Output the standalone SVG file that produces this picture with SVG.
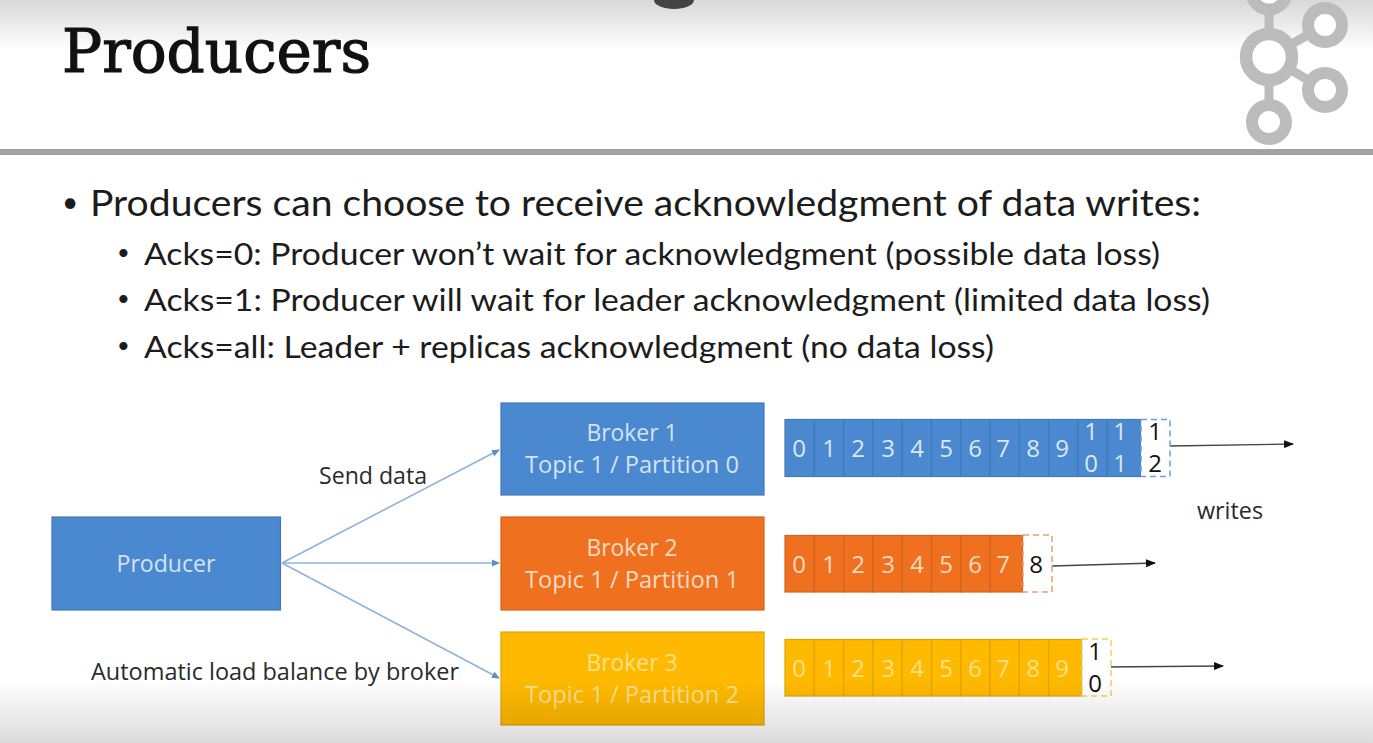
<svg xmlns="http://www.w3.org/2000/svg" width="1373" height="743" viewBox="0 0 1373 743">
<style>
.b{font-family:"Lato","Open Sans",sans-serif;fill:#1c1c1c}
.d{font-family:"Open Sans","Noto Sans",sans-serif;font-size:23px;text-anchor:middle}
.k{fill:#2a2a2a}
.c{font-family:"Open Sans","Noto Sans",sans-serif;font-size:24px;text-anchor:middle}
.cell{stroke-width:1.2}
.blue{fill:#4a89d0;stroke:#4078b8}
.orange{fill:#ef711f;stroke:#d2621c}
.yellow{fill:#ffb900;stroke:#e0a400}
.dash{fill:#fff;stroke-width:1.5;stroke-dasharray:6 4}
.conn{fill:none;stroke:#8fb3d9;stroke-width:1.6}
.wr{fill:none;stroke:#444;stroke-width:1.3}
.logo{fill:#fff;stroke:#bcbcbc}
</style>
<defs>
<linearGradient id="top" x1="0" y1="0" x2="0" y2="1"><stop offset="0" stop-color="#d8d8d8"/><stop offset="1" stop-color="#fff"/></linearGradient>
<linearGradient id="bot" x1="0" y1="0" x2="0" y2="1"><stop offset="0" stop-color="#000" stop-opacity="0"/><stop offset="1" stop-color="#000" stop-opacity="0.14"/></linearGradient>
<marker id="ab" markerWidth="8" markerHeight="8" refX="7" refY="4" orient="auto" markerUnits="userSpaceOnUse"><path d="M0 0.500L8 4L0 7.500z" fill="#5e90c8"/></marker>
<marker id="ak" markerWidth="10" markerHeight="8" refX="9" refY="4" orient="auto" markerUnits="userSpaceOnUse"><path d="M0 0L10 4L0 8z" fill="#111"/></marker>
</defs>
<rect width="1373" height="743" fill="#fff"/>
<rect width="1373" height="50" fill="url(#top)"/>
<path d="M654 0H694A20 9 0 0 1 654 0z" fill="#444"/>
<rect x="0" y="149" width="1373" height="6" fill="#a2a2a2"/>
<g id="logo">
<path fill="none" stroke="#bcbcbc" stroke-width="9" d="M1269 0V122M1269 57L1325 25M1269 57L1325 90"/>
<circle class="logo" cx="1269" cy="-8" r="17.500" stroke-width="12"/>
<circle class="logo" cx="1269" cy="57" r="23" stroke-width="12.500"/>
<circle class="logo" cx="1325" cy="25" r="17" stroke-width="12"/>
<circle class="logo" cx="1325" cy="90" r="17" stroke-width="12"/>
<circle class="logo" cx="1269" cy="122" r="17" stroke-width="12"/>
</g>
<text x="62" y="72" font-family="DejaVu Serif,serif" font-size="60" fill="#111" stroke="#111" stroke-width="1.200" textLength="309" lengthAdjust="spacingAndGlyphs">Producers</text>
<g id="bullets">
<text class="b" x="62" y="212" font-size="28">•</text>
<text class="b" x="90" y="216" font-size="37" textLength="1111" lengthAdjust="spacingAndGlyphs">Producers can choose to receive acknowledgment of data writes:</text>
<text class="b" x="117" y="260" font-size="22">•</text>
<text class="b" x="144" y="265" font-size="31" textLength="1016" lengthAdjust="spacingAndGlyphs">Acks=0: Producer won’t wait for acknowledgment (possible data loss)</text>
<text class="b" x="117" y="306" font-size="22">•</text>
<text class="b" x="144" y="311" font-size="31" textLength="1066" lengthAdjust="spacingAndGlyphs">Acks=1: Producer will wait for leader acknowledgment (limited data loss)</text>
<text class="b" x="117" y="353" font-size="22">•</text>
<text class="b" x="144" y="358" font-size="31" textLength="850" lengthAdjust="spacingAndGlyphs">Acks=all: Leader + replicas acknowledgment (no data loss)</text>
</g>
<g id="connectors">
<path class="conn" marker-end="url(#ab)" d="M282 563L499 450"/>
<path class="conn" marker-end="url(#ab)" d="M282 563H499"/>
<path class="conn" marker-end="url(#ab)" d="M282 563L499 678"/>
<path class="wr" marker-end="url(#ak)" d="M1170 446L1293 444"/>
<path class="wr" marker-end="url(#ak)" d="M1052 566L1155 563"/>
<path class="wr" marker-end="url(#ak)" d="M1105 667L1223 666"/>
</g>
<text class="d k" x="373" y="484" textLength="108" lengthAdjust="spacingAndGlyphs">Send data</text>
<text class="d k" x="275" y="680" textLength="368" lengthAdjust="spacingAndGlyphs">Automatic load balance by broker</text>
<text class="d k" x="1230" y="519" textLength="66" lengthAdjust="spacingAndGlyphs">writes</text>
<g id="producer"><rect class="cell blue" x="52" y="517" width="228.500" height="93"/><text class="d" fill="#d5e2f2" x="166" y="572" textLength="99" lengthAdjust="spacingAndGlyphs">Producer</text></g>
<g id="broker1"><rect class="cell blue" x="501" y="403" width="263" height="92"/><text class="d" fill="#d5e2f2" x="632" y="441" textLength="91" lengthAdjust="spacingAndGlyphs">Broker 1</text><text class="d" fill="#d5e2f2" x="632" y="473" textLength="214" lengthAdjust="spacingAndGlyphs">Topic 1 / Partition 0</text></g>
<g id="broker2"><rect class="cell orange" x="501" y="517" width="263" height="93"/><text class="d" fill="#f8d9c2" x="632" y="556" textLength="91" lengthAdjust="spacingAndGlyphs">Broker 2</text><text class="d" fill="#f8d9c2" x="632" y="588" textLength="214" lengthAdjust="spacingAndGlyphs">Topic 1 / Partition 1</text></g>
<g id="broker3"><rect class="cell yellow" x="501" y="632" width="263" height="93"/><text class="d" fill="#fbe08a" x="632" y="671" textLength="91" lengthAdjust="spacingAndGlyphs">Broker 3</text><text class="d" fill="#fbe08a" x="632" y="703" textLength="214" lengthAdjust="spacingAndGlyphs">Topic 1 / Partition 2</text></g>
<g id="log1">
<rect class="cell blue" x="785" y="419.500" width="29.300" height="57"/><rect class="cell blue" x="814.300" y="419.500" width="29.300" height="57"/><rect class="cell blue" x="843.600" y="419.500" width="29.300" height="57"/><rect class="cell blue" x="872.900" y="419.500" width="29.300" height="57"/><rect class="cell blue" x="902.200" y="419.500" width="29.300" height="57"/><rect class="cell blue" x="931.500" y="419.500" width="29.300" height="57"/><rect class="cell blue" x="960.800" y="419.500" width="29.300" height="57"/><rect class="cell blue" x="990.100" y="419.500" width="29.300" height="57"/><rect class="cell blue" x="1019.400" y="419.500" width="29.300" height="57"/><rect class="cell blue" x="1048.700" y="419.500" width="29.300" height="57"/><rect class="cell blue" x="1078" y="419.500" width="29.300" height="57"/><rect class="cell blue" x="1107.300" y="419.500" width="33.700" height="57"/>
<rect class="dash" x="1141" y="419.500" width="29" height="57" stroke="#6f9fd2"/>
<g class="c" fill="#dce7f4">
<text x="799" y="457">0</text><text x="829" y="457">1</text><text x="858" y="457">2</text><text x="888" y="457">3</text><text x="917" y="457">4</text><text x="946" y="457">5</text><text x="975" y="457">6</text><text x="1003" y="457">7</text><text x="1033" y="457">8</text><text x="1062" y="457">9</text>
<text x="1091" y="440">1</text><text x="1091" y="472">0</text><text x="1120" y="440">1</text><text x="1120" y="472">1</text>
</g>
<g class="c" fill="#111"><text x="1155" y="440">1</text><text x="1155" y="472">2</text></g>
</g>
<g id="log2">
<rect class="cell orange" x="785" y="535.500" width="29.300" height="56.500"/><rect class="cell orange" x="814.300" y="535.500" width="29.300" height="56.500"/><rect class="cell orange" x="843.600" y="535.500" width="29.300" height="56.500"/><rect class="cell orange" x="872.900" y="535.500" width="29.300" height="56.500"/><rect class="cell orange" x="902.200" y="535.500" width="29.300" height="56.500"/><rect class="cell orange" x="931.500" y="535.500" width="29.300" height="56.500"/><rect class="cell orange" x="960.800" y="535.500" width="29.300" height="56.500"/><rect class="cell orange" x="990.100" y="535.500" width="32.400" height="56.500"/>
<rect class="dash" x="1023" y="535" width="29" height="57" stroke="#e8a070"/>
<g class="c" fill="#f8d9c2"><text x="799" y="573">0</text><text x="829" y="573">1</text><text x="858" y="573">2</text><text x="888" y="573">3</text><text x="917" y="573">4</text><text x="946" y="573">5</text><text x="975" y="573">6</text><text x="1003" y="573">7</text></g>
<text class="c" fill="#111" x="1036" y="573">8</text>
</g>
<g id="log3">
<rect class="cell yellow" x="785" y="639.500" width="29.300" height="56.500"/><rect class="cell yellow" x="814.300" y="639.500" width="29.300" height="56.500"/><rect class="cell yellow" x="843.600" y="639.500" width="29.300" height="56.500"/><rect class="cell yellow" x="872.900" y="639.500" width="29.300" height="56.500"/><rect class="cell yellow" x="902.200" y="639.500" width="29.300" height="56.500"/><rect class="cell yellow" x="931.500" y="639.500" width="29.300" height="56.500"/><rect class="cell yellow" x="960.800" y="639.500" width="29.300" height="56.500"/><rect class="cell yellow" x="990.100" y="639.500" width="29.300" height="56.500"/><rect class="cell yellow" x="1019.400" y="639.500" width="29.300" height="56.500"/><rect class="cell yellow" x="1048.700" y="639.500" width="33.300" height="56.500"/>
<rect class="dash" x="1082" y="639" width="29" height="57" stroke="#f0d060"/>
<g class="c" fill="#fbe08a"><text x="799" y="677">0</text><text x="829" y="677">1</text><text x="858" y="677">2</text><text x="888" y="677">3</text><text x="917" y="677">4</text><text x="946" y="677">5</text><text x="975" y="677">6</text><text x="1003" y="677">7</text><text x="1033" y="677">8</text><text x="1062" y="677">9</text></g>
<g class="c" fill="#111"><text x="1095" y="660">1</text><text x="1095" y="692">0</text></g>
</g>
<rect y="680" width="1373" height="63" fill="url(#bot)"/>
</svg>
